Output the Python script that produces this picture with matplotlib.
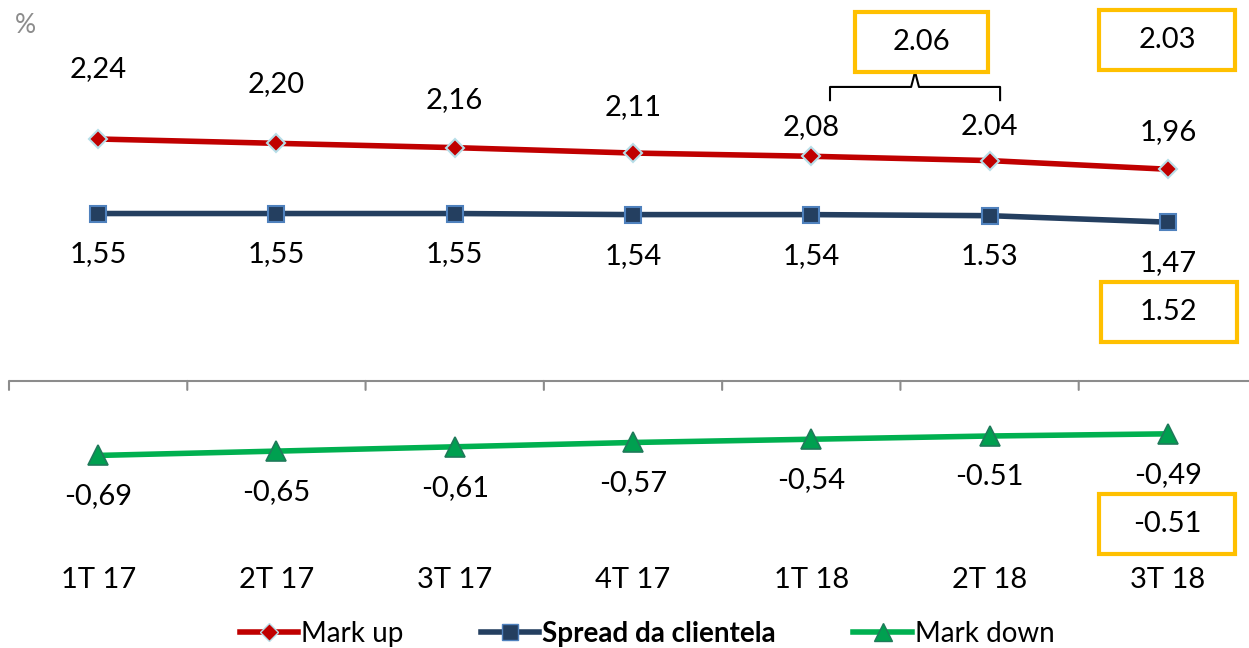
import matplotlib.pyplot as plt
from matplotlib.patches import Rectangle
from matplotlib.lines import Line2D

plt.rcParams['font.family'] = ['Lato', 'DejaVu Sans']

trimestres = ['1T 17', '2T 17', '3T 17', '4T 17', '1T 18', '2T 18', '3T 18']
mark_up = [2.24, 2.20, 2.16, 2.11, 2.08, 2.04, 1.96]
spread = [1.55, 1.55, 1.55, 1.54, 1.54, 1.53, 1.47]
mark_down = [-0.69, -0.65, -0.61, -0.57, -0.54, -0.51, -0.49]
# separador decimal usado em cada rótulo
separador = [',', ',', ',', ',', ',', '.', ',']

# valores destacados nas caixas
media_mark_up = 2.06
destaque_mark_up = 2.03
destaque_spread = 1.52
destaque_mark_down = -0.51

# deslocamento vertical (px) dos rótulos do mark up
desloc_mu = [70, 59, 48, 46, 29, 34, 37]

RED = '#C00000'
NAVY = '#243F60'
GREEN = '#00B050'
GOLD = '#FFC000'

fig = plt.figure(figsize=(12.49, 6.48), dpi=100)
ax = fig.add_axes([9 / 1249, 100 / 648, 1248 / 1249, 548 / 648])
ax.set_xlim(-0.5, 6.5)
ax.set_ylim(-1.547, 3.527)
ax.axis('off')
x = list(range(len(trimestres)))


def fmt(v, s):
    return f'{v:.2f}'.replace('.', s)


ax.plot(x, mark_up, color=RED, lw=4, marker='D', ms=9, mfc=RED,
        mec='#B7DEE8', mew=1.5, label='Mark up', zorder=3)
ax.plot(x, spread, color=NAVY, lw=4, marker='s', ms=11, mfc=NAVY,
        mec='#4F81BD', mew=1.5, label='Spread da clientela', zorder=3)
ax.plot(x, mark_down, color=GREEN, lw=4, marker='^', ms=15, mfc='#00A050',
        mec='#1F7A5A', mew=1.2, label='Mark down', zorder=3)

# linha do zero com marcas entre categorias
ax.axhline(0, color='#8C8C8C', lw=1.5, xmin=0, xmax=1)
for b in [i - 0.5 for i in range(len(trimestres) + 1)]:
    ax.annotate('', xy=(b, 0), xytext=(0, -9), textcoords='offset pixels',
                arrowprops=dict(arrowstyle='-', color='#8C8C8C', lw=1.5,
                                shrinkA=0, shrinkB=0))

fs = 21
for i in x:
    ax.annotate(fmt(mark_up[i], separador[i]), (i, mark_up[i]),
                xytext=(0, desloc_mu[i]), textcoords='offset pixels',
                ha='center', va='center', fontsize=fs)
    ax.annotate(fmt(spread[i], separador[i]), (i, spread[i]),
                xytext=(0, -41), textcoords='offset pixels',
                ha='center', va='center', fontsize=fs)
    ax.annotate(fmt(mark_down[i], separador[i]), (i, mark_down[i]),
                xytext=(0, -41), textcoords='offset pixels',
                ha='center', va='center', fontsize=fs)
    ax.text(i, -1.843, trimestres[i], ha='center', va='center', fontsize=fs)

ax.text(-0.41, 3.29, '%', color='#8C8C8C', fontsize=19, ha='center', va='center')


def caixa(xc, yc, texto, w=0.765, h=0.55):
    ax.add_patch(Rectangle((xc - w / 2, yc - h / 2), w, h, fill=False,
                           ec=GOLD, lw=3, zorder=4, clip_on=False))
    ax.text(xc, yc, texto, ha='center', va='center', fontsize=fs, zorder=5)


caixa(4.616, 3.139, f'{media_mark_up:.2f}', w=0.746)
caixa(5.995, 3.157, f'{destaque_mark_up:.2f}')
caixa(6.005, 0.639, f'{destaque_spread:.2f}')
caixa(5.995, -1.324, f'{destaque_mark_down:.2f}')

# chave agrupando 1T 18 e 2T 18
yb = 2.722
ax.plot([4.105, 4.105, 4.56, 4.582, 4.604, 5.059, 5.059],
        [2.60, yb, yb, 2.861, yb, yb, 2.60], color='black', lw=1.5,
        solid_joinstyle='round')

handles = [
    Line2D([], [], color=RED, lw=4, marker='D', ms=9, mfc=RED, mec='#B7DEE8'),
    Line2D([], [], color=NAVY, lw=4, marker='s', ms=11, mfc=NAVY, mec='#4F81BD'),
    Line2D([], [], color=GREEN, lw=4, marker='^', ms=13, mfc='#00A050', mec='#1F7A5A'),
]
leg = fig.legend(handles, ['Mark up', 'Spread da clientela', 'Mark down'],
                 loc='center', bbox_to_anchor=(0.518, 14 / 648), ncol=3,
                 frameon=False, fontsize=20, handlelength=2.1,
                 handletextpad=0.1, columnspacing=2.8)
leg.get_texts()[1].set_fontweight('bold')

fig.savefig('out.png', dpi=100)
